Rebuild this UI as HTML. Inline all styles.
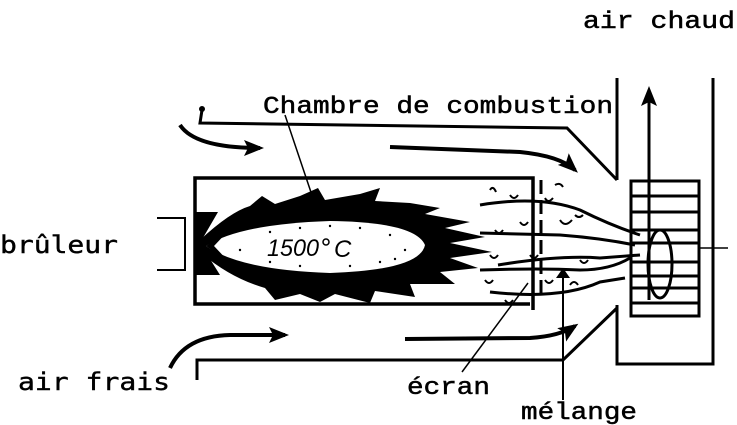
<!DOCTYPE html>
<html><head><meta charset="utf-8"><style>
html,body{margin:0;padding:0;background:#fff;}
svg{display:block}
.m{font-family:"Liberation Mono",monospace;fill:#000;stroke:#000;stroke-width:0.5}
.s{font-family:"DejaVu Sans Mono","Liberation Mono",monospace;fill:#000;stroke:#000;stroke-width:0.4}
</style></head><body>
<svg width="737" height="425" viewBox="0 0 737 425" xmlns="http://www.w3.org/2000/svg">
<defs><marker id="ah" markerWidth="10" markerHeight="14" refX="8" refY="7" orient="auto" markerUnits="userSpaceOnUse"><path d="M0,0 L10,7 L0,14 Z"/></marker>
<marker id="ab" markerWidth="20" markerHeight="16" refX="16" refY="8" orient="auto" markerUnits="userSpaceOnUse"><path d="M0,0 L20,8 L0,16 L4,8 Z"/></marker></defs>
<g fill="none" stroke="#000">
<path d="M202,110 L200,123 L567,128 L617,180" stroke-width="3"/>
<circle cx="202" cy="109" r="2.5" fill="#000"/>
<path d="M617,78 L617,180 M617,305 L617,364 L713,364 L713,78" stroke-width="3"/>
<path d="M197,380 L197,360 L563,360 L617,308" stroke-width="3"/>
<path d="M195,252 L195,178 L533,178 L533,310 M195,252 L195,304 L530,304" stroke-width="3.5"/>
<path d="M157,218 L185,218 L185,270 L157,270" stroke-width="2"/>
<rect x="631" y="181" width="68" height="135" stroke-width="3"/>
<path d="M631,196 H699 M631,212 H699 M631,230 H699 M631,243 H699 M631,262 H699 M631,276 H699 M631,288 H699 M631,303 H699" stroke-width="3"/>
<ellipse cx="660" cy="264" rx="12" ry="34" stroke-width="3"/>
<path d="M700,248 H728" stroke-width="1.5"/>
<path d="M649,300 L649,90" stroke-width="3" marker-end="url(#ab)"/>
<path d="M180,125 Q195,148 260,148" stroke-width="4" marker-end="url(#ab)"/>
<path d="M390,147 L520,152 Q560,156 575,170" stroke-width="4" marker-end="url(#ab)"/>
<path d="M170,368 Q185,336 230,335 L285,335" stroke-width="4" marker-end="url(#ab)"/>
<path d="M405,339 L530,338 Q560,336 575,326" stroke-width="4" marker-end="url(#ab)"/>
<path d="M480,205 Q540,195 580,210 Q610,225 640,235" stroke-width="3"/>
<path d="M480,233 L560,235 Q600,238 635,245" stroke-width="3"/>
<path d="M498,265 Q560,255 600,258 L640,255" stroke-width="3"/>
<path d="M480,270 Q540,268 580,270 Q610,270 630,258" stroke-width="3"/>
<path d="M490,292 Q560,300 600,282 L625,278" stroke-width="3"/>
<path d="M541,180 V300" stroke-width="3" stroke-dasharray="14,6"/>
<path d="M490,190 q3,-5 6,2 M510,195 q4,6 8,0 M545,198 q3,6 8,0 M555,185 q5,-3 8,2 M520,222 q4,6 8,0 M560,220 q5,8 12,0 M530,255 q4,6 8,0 M580,260 q4,6 8,0 M490,255 q4,6 8,0 M545,280 q4,6 8,0 M570,285 q4,-6 8,0 M505,300 q4,6 8,0 M575,215 q4,4 8,0 M485,280 q4,6 8,0 M495,230 q4,6 8,0" stroke-width="2"/>
<path d="M285,115 L322,225 L326,240" stroke-width="1.5"/>
<path d="M462,372 L528,283" stroke-width="1.5"/>
<path d="M563,400 L563,270" stroke-width="2" marker-end="url(#ah)"/>
</g>
<path fill="#000" d="M200,240 Q230,212 250,206 L262,196 L275,204 L300,196 L318,188 L325,200 L360,194 L380,188 L375,201 L410,203 L440,208 L425,214 L470,222 L445,228 L485,237 L450,243 L492,252 L450,258 L478,268 L440,272 L455,284 L410,284 L415,297 L375,291 L370,303 L335,294 L320,302 L300,294 L275,300 L265,288 Q230,278 200,252 Z"/>
<path fill="#fff" d="M206,246 Q240,224 330,221 Q415,222 425,245 Q420,270 330,273 Q240,270 206,246 Z"/>
<path fill="#000" d="M195,212 L218,212 L200,243 L220,275 L195,275 Z"/>
<path fill="#000" d="M206,246 L230,229 L214,246 L230,263 Z"/>
<g fill="#000">
<circle cx="270" cy="232" r="1.2"/><circle cx="300" cy="228" r="1.2"/><circle cx="330" cy="226" r="1.2"/><circle cx="360" cy="228" r="1.2"/><circle cx="390" cy="235" r="1.2"/><circle cx="405" cy="250" r="1.2"/><circle cx="380" cy="262" r="1.2"/><circle cx="300" cy="266" r="1.2"/><circle cx="270" cy="262" r="1.2"/><circle cx="350" cy="266" r="1.2"/><circle cx="240" cy="250" r="1.2"/><circle cx="395" cy="259" r="1.2"/>
</g>
<circle cx="326" cy="242" r="3" stroke="#000" stroke-width="1.5" fill="#fff"/>
<text x="267" y="256" font-family="Liberation Sans,sans-serif" font-style="italic" font-size="24" textLength="52" lengthAdjust="spacingAndGlyphs">1500</text>
<text x="334" y="257" font-family="Liberation Sans,sans-serif" font-style="italic" font-size="24">C</text>
<text class="m" x="583" y="28" font-size="24" textLength="152" lengthAdjust="spacingAndGlyphs">air chaud</text>
<text class="m" x="263" y="113" font-size="24" textLength="350" lengthAdjust="spacingAndGlyphs">Chambre de combustion</text>
<text class="s" x="0" y="253" font-size="24" textLength="118" lengthAdjust="spacingAndGlyphs">brûleur</text>
<text class="s" x="18" y="390" font-size="24" textLength="152" lengthAdjust="spacingAndGlyphs">air frais</text>
<text class="m" x="407" y="394" font-size="24" textLength="83" lengthAdjust="spacingAndGlyphs">écran</text>
<text class="m" x="521" y="419" font-size="24" textLength="116" lengthAdjust="spacingAndGlyphs">mélange</text>
</svg>
</body></html>
